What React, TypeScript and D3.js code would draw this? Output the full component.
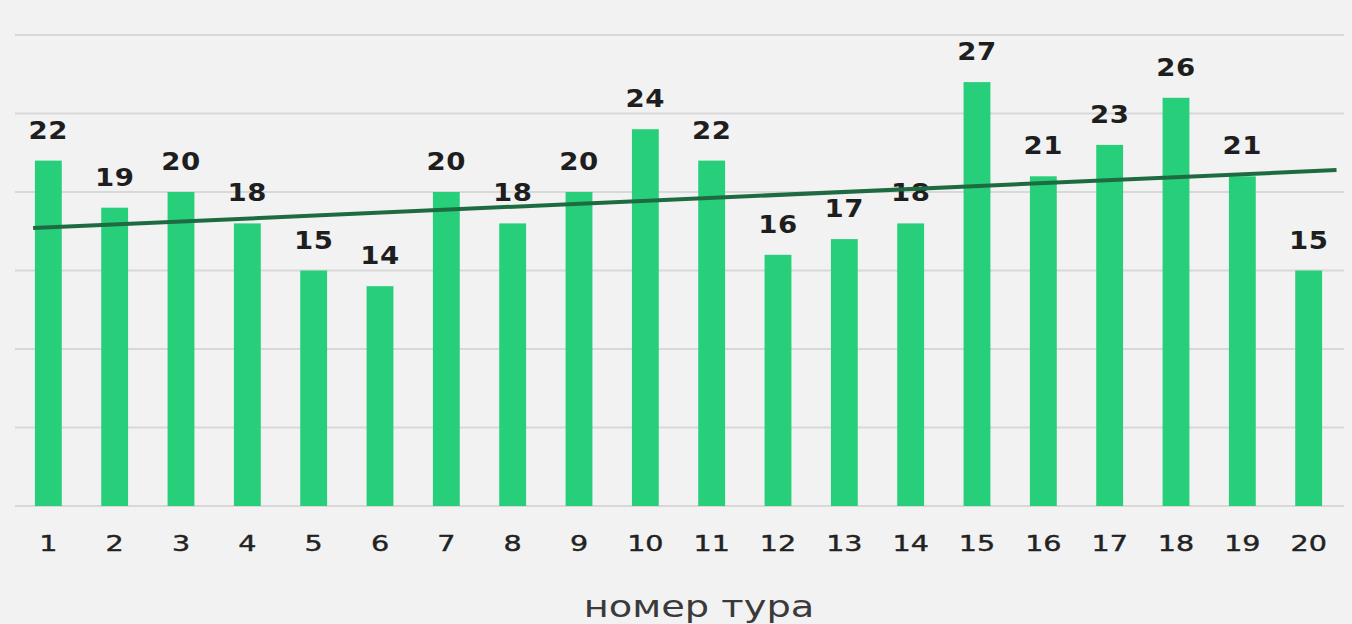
import React from "react";
import * as d3 from "d3";

// номер тура -> value
const rounds = ["1", "2", "3", "4", "5", "6", "7", "8", "9", "10", "11", "12", "13", "14", "15", "16", "17", "18", "19", "20"];
const values = [22, 19, 20, 18, 15, 14, 20, 18, 20, 24, 22, 16, 17, 18, 27, 21, 23, 26, 21, 15];
const gridTicks = [0, 5, 10, 15, 20, 25, 30];
// trend line ends, in bar-index / value units
const trendX = [-0.23, 19.42];
const trendY = [17.7, 21.4];
const axisTitle = "номер тура";

const W = 1352;
const H = 624;
const margin = { left: 15, right: 10, top: 35, bottom: 118 };

export default function App() {
  const x = d3.scaleBand<string>()
    .domain(rounds)
    .range([margin.left, W - margin.right])
    .paddingInner(0.595)
    .paddingOuter(0.3);

  const y = d3.scaleLinear()
    .domain([0, 30])
    .range([H - margin.bottom, margin.top]);

  const bw = x.bandwidth();
  const first = (x(rounds[0]) ?? 0) + bw / 2;
  const idx = d3.scaleLinear().domain([0, 1]).range([first, first + x.step()]);

  const trend = d3.line<number>()
    .x((d, i) => idx(trendX[i]))
    .y(d => y(d));

  return (
    <svg width={W} height={H} style={{ position: "fixed", left: 0, top: 0, background: "#f2f2f2" }}>
      <rect width={W} height={H} fill="#f2f2f2" />
      {gridTicks.map(t => (
        <line key={t} x1={margin.left} x2={W - margin.right + 2} y1={y(t)} y2={y(t)}
          stroke="#d8d8d8" strokeWidth={2} />
      ))}
      {rounds.map((r, i) => {
        const cx = (x(r) ?? 0) + bw / 2;
        return (
          <g key={r}>
            <rect x={x(r)} y={y(values[i])} width={bw} height={y(0) - y(values[i])} fill="#27cf7b" />
            <text transform={`translate(${cx},${y(values[i]) - 22}) scale(1.15,1)`} textAnchor="middle"
              letterSpacing={0.5}
              fontFamily="DejaVu Sans" fontWeight="bold" fontSize={24} fill="#1e1e1e">
              {values[i]}
            </text>
            <text transform={`translate(${cx},551) scale(1.3,1)`} textAnchor="middle"
              fontFamily="DejaVu Sans" fontSize={22} fill="#222" stroke="#222" strokeWidth={0.4}>
              {r}
            </text>
          </g>
        );
      })}
      <path d={trend(trendY) ?? ""} fill="none" stroke="#1f6b41" strokeWidth={4} />
      <text transform="translate(699,617) scale(1.28,1)" textAnchor="middle" fontFamily="DejaVu Sans"
        fontSize={30} fill="#3a3a3a">
        {axisTitle}
      </text>
    </svg>
  );
}
